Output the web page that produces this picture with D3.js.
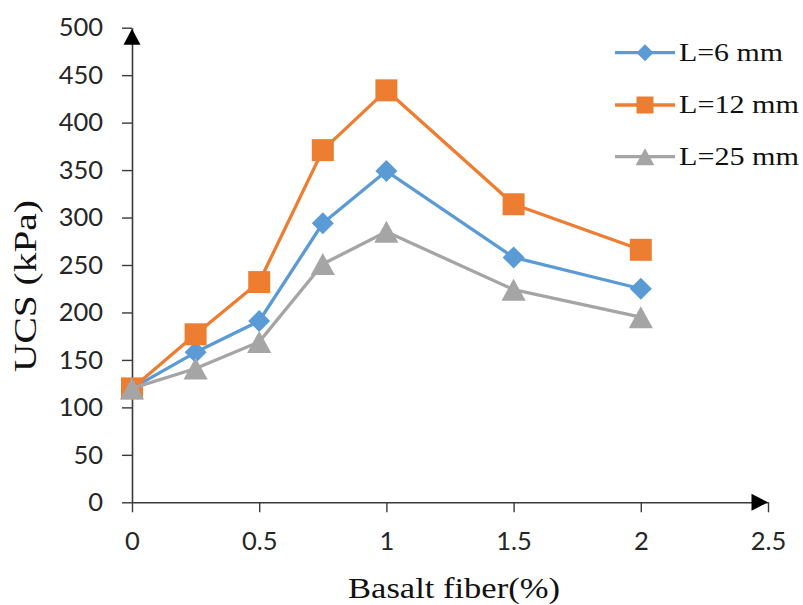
<!DOCTYPE html>
<html>
<head>
<meta charset="utf-8">
<script src="https://cdn.jsdelivr.net/npm/d3@7"></script>
<style>
  html, body { margin: 0; padding: 0; background: #fff; }
  svg { display: block; }
</style>
</head>
<body>
<svg id="chart" width="803" height="605"></svg>
<script>
// ---- data ----
const fiberPct = [0, 0.25, 0.5, 0.75, 1, 1.5, 2];
const ucsL6  = [120, 158, 191, 294, 349, 258, 225];
const ucsL12 = [120, 177, 232, 371, 434, 314, 266];
const ucsL25 = [120, 141, 169, 251, 285, 224, 195];
const seriesNames = ["L=6 mm", "L=12 mm", "L=25 mm"];
const xTicks = [0, 0.5, 1, 1.5, 2, 2.5];
const yTicks = [0, 50, 100, 150, 200, 250, 300, 350, 400, 450, 500];
const xTitle = "Basalt fiber(%)";
const yTitle = "UCS (kPa)";

// ---- styles ----
const colors = ["#5B9BD5", "#ED7D31", "#A5A5A5"];
const axisColor = "#3a3a3a";
const tickFont = "Lato, 'Open Sans', sans-serif";
const serifFont = "'Liberation Serif', 'DejaVu Serif', serif";

const svg = d3.select("#chart");
const x = d3.scaleLinear().domain([0, 2.5]).range([132, 768]);
const y = d3.scaleLinear().domain([0, 500]).range([502.3, 27.7]);

// custom marker shapes (bbox centered)
const diamond = { draw(ctx, size) { const r = Math.sqrt(size) / 2; ctx.moveTo(0, -r); ctx.lineTo(r, 0); ctx.lineTo(0, r); ctx.lineTo(-r, 0); ctx.closePath(); } };
const square = { draw(ctx, size) { const r = Math.sqrt(size) / 2; ctx.rect(-r, -r, 2 * r, 2 * r); } };
const triangle = { draw(ctx, size) { const h = Math.sqrt(size); const w = h * 1.1; ctx.moveTo(0, -h / 2); ctx.lineTo(w / 2, h / 2); ctx.lineTo(-w / 2, h / 2); ctx.closePath(); } };
const shapes = [diamond, square, triangle];
const markerSizes = [22 * 22, 22 * 22, 22 * 22];
const legendSizes = [17 * 17, 17 * 17, 17 * 17];

// ---- axes ----
const yAxis = d3.axisLeft(y).tickValues(yTicks).tickSize(10).tickSizeOuter(0).tickPadding(19);
const xAxis = d3.axisBottom(x).tickValues(xTicks).tickSize(10).tickSizeOuter(0).tickPadding(20)
  .tickFormat(d3.format("~g"));

const gy = svg.append("g").attr("transform", `translate(${x(0)},0)`).call(yAxis);
const gx = svg.append("g").attr("transform", `translate(0,${y(0)})`).call(xAxis);
[gx, gy].forEach(g => {
  g.selectAll("path.domain").attr("stroke", axisColor).attr("stroke-width", 1.6);
  g.selectAll(".tick line").attr("stroke", axisColor).attr("stroke-width", 1.4);
  g.selectAll(".tick text").attr("fill", "#262626").style("font-family", tickFont).style("font-size", "25.5px");
});

// arrows
svg.append("path")
  .attr("d", d3.line()([[x(0), y(500) + 1], [x(0) + 8.5, y(500) + 17], [x(0) - 8.5, y(500) + 17]]) + "Z")
  .attr("fill", "#000");
svg.append("path")
  .attr("d", d3.line()([[x(2.5), y(0)], [x(2.5) - 16.5, y(0) - 8.5], [x(2.5) - 16.5, y(0) + 8.5]]) + "Z")
  .attr("fill", "#000");

// ---- series ----
const allSeries = [ucsL6, ucsL12, ucsL25];
const line = d3.line().x(d => x(d[0])).y(d => y(d[1]));
allSeries.forEach((vals, i) => {
  const pts = fiberPct.map((f, j) => [f, vals[j]]);
  const g = svg.append("g");
  g.append("path").attr("d", line(pts)).attr("fill", "none")
    .attr("stroke", colors[i]).attr("stroke-width", 3.3).attr("stroke-linejoin", "round");
  g.selectAll("path.m").data(pts).join("path").attr("class", "m")
    .attr("transform", d => `translate(${x(d[0])},${y(d[1])})`)
    .attr("d", d3.symbol().type(shapes[i]).size(markerSizes[i]))
    .attr("fill", colors[i]);
});

// ---- legend ----
const legendY = [52.7, 105, 156.7];
const legendTextLen = [104, 120, 120];
seriesNames.forEach((name, i) => {
  const g = svg.append("g").attr("transform", `translate(0,${legendY[i]})`);
  g.append("line").attr("x1", 615).attr("x2", 675).attr("y1", 0).attr("y2", 0)
    .attr("stroke", colors[i]).attr("stroke-width", 3.3);
  g.append("path").attr("transform", "translate(645,0)")
    .attr("d", d3.symbol().type(shapes[i]).size(legendSizes[i])).attr("fill", colors[i]);
  g.append("text").attr("x", 679).attr("y", 8).text(name)
    .attr("textLength", legendTextLen[i]).attr("lengthAdjust", "spacingAndGlyphs")
    .style("font-family", serifFont).style("font-size", "25px").attr("fill", "#111");
});

// ---- axis titles ----
svg.append("text").attr("x", 348).attr("y", 598).text(xTitle)
  .attr("textLength", 212).attr("lengthAdjust", "spacingAndGlyphs")
  .style("font-family", serifFont).style("font-size", "29px").attr("fill", "#111");
svg.append("text").attr("transform", "translate(36,372) rotate(-90)").attr("x", 0).attr("y", 0).text(yTitle)
  .attr("textLength", 172).attr("lengthAdjust", "spacingAndGlyphs")
  .style("font-family", serifFont).style("font-size", "32px").attr("fill", "#111");
</script>
</body>
</html>
